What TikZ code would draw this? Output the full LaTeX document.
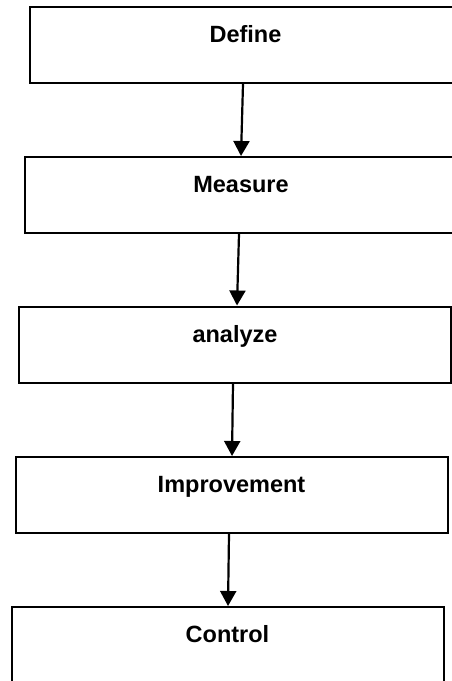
\documentclass[tikz,border=0pt]{standalone}
\usepackage{fontspec}
\setmainfont{Liberation Sans}
\usepackage{tikz}
\usetikzlibrary{arrows.meta,positioning}
\tikzset{
  phase/.style={draw,line width=2pt,minimum width=432pt,minimum height=76pt,
    inner sep=0pt,text height=17pt,text depth=22pt,
    font=\fontsize{23.5}{28}\selectfont\bfseries},
  flow/.style={line width=2.2pt,-{Triangle[width=16pt,length=15pt]}}
}

\begin{document}
\begin{tikzpicture}[x=1pt,y=1pt]
  \useasboundingbox (0,0) rectangle (452,-681);
  \node[phase] (define) at (245.5,-45) {Define};
  \node[phase] (measure) at (241,-195) {Measure};
  \node[phase] (analyze) at (235,-344.5) {analyze};
  \node[phase] (improve) at (231.5,-495) {Improvement};
  \node[phase] (control) at (227.5,-645) {Control};
  % slightly slanted links, as in the scan
  \draw[flow] ([xshift=-2.5pt]define.south) -- (measure.north);
  \draw[flow] ([xshift=-2pt]measure.south) -- ([xshift=2pt]analyze.north);
  \draw[flow] ([xshift=-2pt]analyze.south) -- ([xshift=0.5pt]improve.north);
  \draw[flow] ([xshift=-2.5pt]improve.south) -- ([xshift=0.5pt]control.north);
\end{tikzpicture}
\end{document}
